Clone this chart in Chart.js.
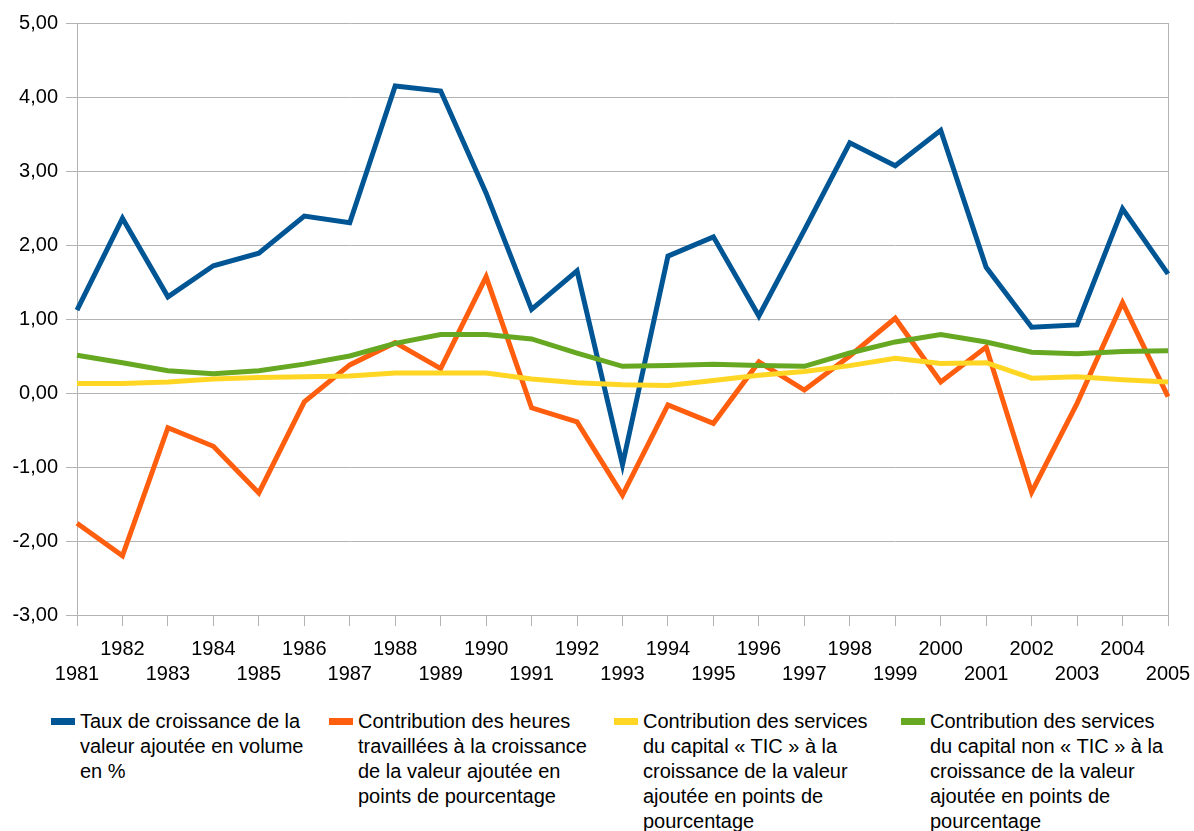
<!DOCTYPE html>
<html>
<head>
<meta charset="utf-8">
<script src="https://cdn.jsdelivr.net/npm/chart.js@4/dist/chart.umd.min.js"></script>
<style>
  body { margin: 0; background: #fff; font-family: "Liberation Sans", Arial, sans-serif; }
  #wrap { position: relative; width: 1194px; height: 700px; }
  #legend { position: absolute; top: 709px; left: 0; width: 1194px; height: 122px; overflow: hidden; }
  .item { position: absolute; top: 0; white-space: nowrap; font-size: 20px; line-height: 25px; color: #000; }
  .item span.sw { position: absolute; left: -29px; top: 9px; width: 24px; height: 7px; }
</style>
</head>
<body>
<div id="wrap"><canvas id="chart"></canvas></div>
<div id="legend"></div>
<script>
const years = ['1981','1982','1983','1984','1985','1986','1987','1988','1989','1990','1991','1992','1993',
  '1994','1995','1996','1997','1998','1999','2000','2001','2002','2003','2004','2005'];

const tauxVA = [1.12, 2.36, 1.30, 1.72, 1.89, 2.39, 2.30, 4.15, 4.08, 2.70, 1.13, 1.65, -0.97,
  1.85, 2.11, 1.04, 2.20, 3.38, 3.07, 3.55, 1.70, 0.89, 0.92, 2.49, 1.61];
const heures = [-1.76, -2.20, -0.47, -0.72, -1.35, -0.12, 0.38, 0.68, 0.33, 1.57, -0.20, -0.39, -1.38,
  -0.16, -0.41, 0.42, 0.04, 0.50, 1.01, 0.15, 0.62, -1.34, -0.14, 1.22, -0.05];
const capitalTIC = [0.13, 0.13, 0.15, 0.19, 0.21, 0.22, 0.23, 0.27, 0.27, 0.27, 0.19, 0.14, 0.11,
  0.10, 0.17, 0.24, 0.29, 0.37, 0.47, 0.40, 0.41, 0.20, 0.22, 0.18, 0.15];
const capitalNonTIC = [0.51, 0.41, 0.30, 0.26, 0.30, 0.39, 0.50, 0.67, 0.79, 0.79, 0.73, 0.54, 0.36,
  0.37, 0.39, 0.37, 0.36, 0.54, 0.69, 0.79, 0.69, 0.55, 0.53, 0.56, 0.57];

// libelles de legende, coupes comme dans l'original
const labels = [
  ['Taux de croissance de la', 'valeur ajoutée en volume', 'en %'],
  ['Contribution des heures', 'travaillées à la croissance', 'de la valeur ajoutée en', 'points de pourcentage'],
  ['Contribution des services', 'du capital « TIC » à la', 'croissance de la valeur', 'ajoutée en points de', 'pourcentage'],
  ['Contribution des services', 'du capital non « TIC » à la', 'croissance de la valeur', 'ajoutée en points de', 'pourcentage']
];
const colors = ['#005594', '#ff5e0e', '#ffd624', '#66a822'];
const series = [tauxVA, heures, capitalTIC, capitalNonTIC];

const gridCol = '#b3b3b3';

const ctx = document.getElementById('chart');
const chart = new Chart(ctx, {
  type: 'line',
  data: {
    labels: years,
    datasets: series.map((s, i) => ({
      label: labels[i].join(' '),
      data: s,
      borderColor: colors[i],
      backgroundColor: colors[i],
      borderWidth: 5,
      pointRadius: 0,
      tension: 0,
      order: 4 - i
    }))
  },
  options: {
    responsive: true,
    maintainAspectRatio: false,
    animation: false,
    layout: { padding: { top: 23, right: 26, left: 0, bottom: 0 } },
    plugins: {
      legend: { display: false },
      tooltip: { enabled: false }
    },
    scales: {
      x: {
        offset: false,
        grid: {
          color: c => (c.index === 0 || c.index === years.length - 1) ? gridCol : 'rgba(0,0,0,0)',
          tickColor: gridCol,
          tickLength: 11,
          drawOnChartArea: true
        },
        border: { color: gridCol },
        ticks: {
          autoSkip: false,
          maxRotation: 0,
          padding: 11,
          color: '#000',
          font: { family: 'Liberation Sans', size: 20, lineHeight: 1.25 },
          callback: function (v, i) {
            const y = years[i];
            return i % 2 === 1 ? [y, ''] : ['', y];
          }
        },
        afterFit: s => { s.height = 85; s.paddingLeft = 0; s.paddingRight = 0; }
      },
      y: {
        min: -3,
        max: 5,
        grid: { color: gridCol, tickLength: 11 },
        border: { color: gridCol },
        ticks: {
          stepSize: 1,
          padding: 8,
          color: '#000',
          font: { family: 'Liberation Sans', size: 20 },
          callback: v => v.toFixed(2).replace('.', ',')
        },
        afterFit: s => { s.width = 77; }
      }
    }
  }
});

// legende en HTML (texte sur plusieurs lignes)
const lg = document.getElementById('legend');
const lefts = [80, 358, 643, 930];
labels.forEach((lines, i) => {
  const d = document.createElement('div');
  d.className = 'item';
  d.style.left = lefts[i] + 'px';
  d.innerHTML = '<span class="sw" style="background:' + colors[i] + '"></span>' + lines.join('<br>');
  lg.appendChild(d);
});
</script>
</body>
</html>
